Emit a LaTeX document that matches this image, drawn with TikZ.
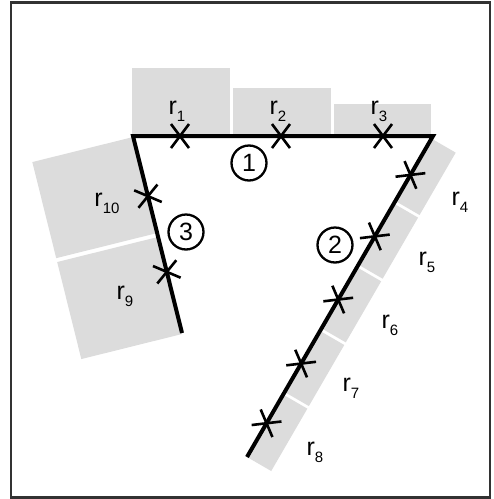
\documentclass[tikz,border=0pt]{standalone}
\usepackage{fontspec}
\setmainfont{Liberation Sans}
\usetikzlibrary{calc}
\definecolor{boxgray}{RGB}{220,220,220}
\definecolor{framegray}{RGB}{50,50,50}
\newcommand\rlab[1]{r\raisebox{-0.28em}{\fontsize{15pt}{15pt}\selectfont #1}}
\begin{document}
\begin{tikzpicture}[x=1pt,y=-1pt,
  box/.style={fill=boxgray,draw=none},
  edgeline/.style={line width=4pt,line join=miter},
  crossmark/.style={line width=2.6pt},
  lab/.style={font=\fontsize{25pt}{25pt}\selectfont,inner sep=0pt},
  num/.style={circle,draw,line width=2.3pt,minimum size=35pt,inner sep=0pt,font=\fontsize{25pt}{25pt}\selectfont}]
\useasboundingbox (0,0) rectangle (494,499);
\draw[framegray,line width=2.5pt] (11,2.5) rectangle (490,497.5);
% geometry
\coordinate (TL) at (133,136);
\coordinate (TR) at (433,136);
\coordinate (E2) at (247,457);
\coordinate (E3) at (182,333);
\coordinate (u2) at (-0.50135,0.86523);
\coordinate (n2) at (0.86523,0.50135);
\coordinate (u3) at (0.24138,0.97044);
\coordinate (n3) at (-0.97044,0.24138);
% top boxes
\fill[box] (132,68) rectangle (230,136);
\fill[box] (233,88) rectangle (331,136);
\fill[box] (334,104) rectangle (431,136);
% right strip
\foreach \a/\b in {3/75.1,78.1/148.7,151.7/222.3,225.3/295.9,298.9/371}{
  \fill[box] ($(TR)+\a*(u2)$) -- ($(TR)+\b*(u2)$) -- ($(TR)+\b*(u2)+28*(n2)$) -- ($(TR)+\a*(u2)+28*(n2)$) -- cycle;
}
% left strip
\foreach \a/\b in {1/100,104/204}{
  \fill[box] ($(TL)+\a*(u3)$) -- ($(TL)+\b*(u3)$) -- ($(TL)+\b*(u3)+104*(n3)$) -- ($(TL)+\a*(u3)+104*(n3)$) -- cycle;
}
% triangle lines
\draw[edgeline] (E2) -- (TR) -- (TL) -- (E3);
% crosses line 1
\foreach \x in {180,281,383}{
  \draw[crossmark] (\x-9,124) -- (\x+9,148);
  \draw[crossmark] (\x-9,148) -- (\x+9,124);
}
% crosses line 2
\foreach \s in {45,116,189,263,332}{
  \draw[crossmark] ($(TR)+\s*(u2)+9*(u2)+12*(n2)$) -- ($(TR)+\s*(u2)-9*(u2)-12*(n2)$);
  \draw[crossmark] ($(TR)+\s*(u2)+9*(u2)-12*(n2)$) -- ($(TR)+\s*(u2)-9*(u2)+12*(n2)$);
}
% crosses line 3
\foreach \s in {62,140}{
  \draw[crossmark] ($(TL)+\s*(u3)+9*(u3)+12*(n3)$) -- ($(TL)+\s*(u3)-9*(u3)-12*(n3)$);
  \draw[crossmark] ($(TL)+\s*(u3)+9*(u3)-12*(n3)$) -- ($(TL)+\s*(u3)-9*(u3)+12*(n3)$);
}
% labels
\node[lab] (r1) at (177,111) {\rlab{1}};
\node[lab] (r2) at (278,111) {\rlab{2}};
\node[lab] (r3) at (379,111) {\rlab{3}};
\node[lab] (r4) at (460,202) {\rlab{4}};
\node[lab] (r5) at (427,262) {\rlab{5}};
\node[lab] (r6) at (390,325) {\rlab{6}};
\node[lab] (r7) at (351,388) {\rlab{7}};
\node[lab] (r8) at (315,452) {\rlab{8}};
\node[lab] (r9) at (125,296) {\rlab{9}};
\node[lab] (r10) at (107,203) {\rlab{10}};
% circled numbers
\node[num] (c1) at (249,163) {1};
\node[num] (c2) at (335,245) {2};
\node[num] (c3) at (186,232) {3};
\end{tikzpicture}
\end{document}
